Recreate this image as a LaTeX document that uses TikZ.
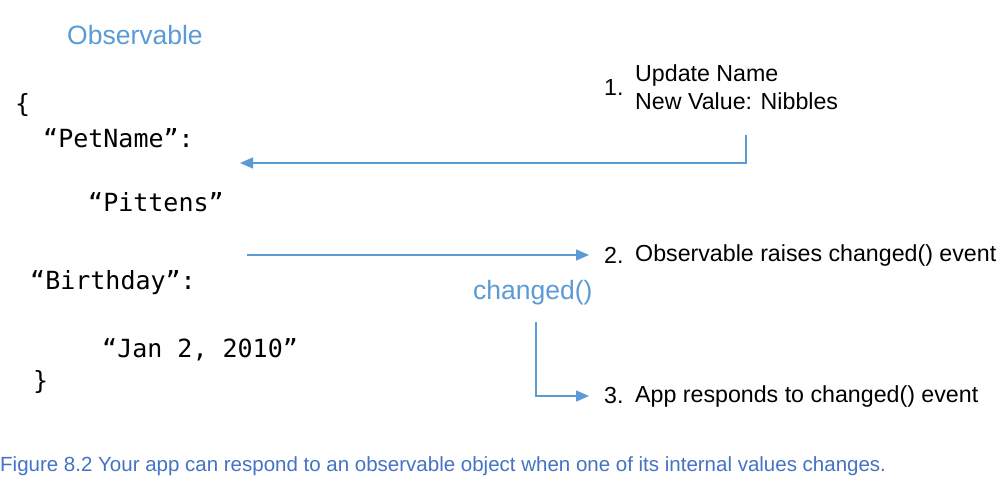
\documentclass[tikz,border=0pt]{standalone}
\usepackage{fontspec}
\setmainfont{Liberation Sans}
\newfontfamily\codefont{DejaVu Sans Mono}
\usetikzlibrary{arrows.meta}
\definecolor{lblue}{HTML}{5B9BD5}
\definecolor{capblue}{HTML}{4472C4}
\tikzset{
  code/.style={anchor=west,inner sep=0pt,font=\codefont\fontsize{25}{30}\selectfont},
  bluetitle/.style={anchor=west,inner sep=0pt,text=lblue,font=\fontsize{26.5}{30}\selectfont},
  lbl/.style={anchor=west,inner sep=0pt,font=\fontsize{23.2}{28}\selectfont},
  conn/.style={draw=lblue,line width=1.5pt,-{Triangle[length=13pt,width=11pt]}},
  caption/.style={anchor=west,inner sep=0pt,text=capblue,font=\fontsize{20.5}{24}\selectfont}
}
\begin{document}
\begin{tikzpicture}[x=1pt,y=-1pt]
\useasboundingbox (0,0) rectangle (1008,490);
\node[bluetitle] (obs) at (67,35) {Observable};
\node[code] (lb) at (15,105) {\{};
\node[code] (pn) at (43,138) {“PetName”:};
\node[code] (pv) at (88,202) {“Pittens”};
\node[code] (bd) at (30,283) {“Birthday”:};
\node[code] (bv) at (102,350) {“Jan 2, 2010”};
\node[code] (rb) at (33,382) {\}};
\node[lbl] (n1) at (604,88) {1.};
\node[lbl,align=left] (t1) at (635,87) {Update Name\\New Value: Nibbles};
\node[lbl] (n2) at (604,255) {2.};
\node[lbl] (t2) at (635,255) {Observable raises changed() event};
\node[lbl] (n3) at (604,396) {3.};
\node[lbl] (t3) at (635,396) {App responds to changed() event};
\node[bluetitle] (chg) at (473,293) {changed()};
\node[caption] (cap) at (0,466) {Figure 8.2 Your app can respond to an observable object when one of its internal values changes.};
\coordinate (a1s) at (746,135);
\coordinate (a1e) at (240,163);
\coordinate (a2s) at (247,255);
\coordinate (a3s) at (536,322);
\draw[conn] (a1s) |- (a1e);
\draw[conn] (a2s) -- ([xshift=-15pt]n2.west);
\draw[conn] (a3s) |- ([xshift=-15pt]n3.west);
\end{tikzpicture}
\end{document}
